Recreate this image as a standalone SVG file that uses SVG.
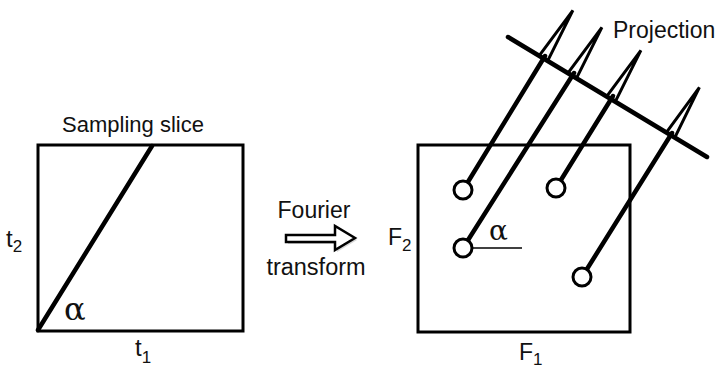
<svg xmlns="http://www.w3.org/2000/svg" width="717" height="370" viewBox="0 0 717 370">
<style>
.t{font-family:"Liberation Sans",Arial,sans-serif;fill:#111}
.g{font-family:"DejaVu Serif","Liberation Serif",serif;fill:#111}
.box{fill:none;stroke:#000;stroke-width:3}
.ln{stroke:#000;stroke-width:4.5;stroke-linecap:round;fill:none}
.sp{stroke:#000;stroke-width:3;fill:none;stroke-linejoin:miter}
.dot{fill:#fff;stroke:#000;stroke-width:3}
</style>
<rect width="717" height="370" fill="#fff"/>
<g id="time-domain">
<rect class="box" x="38" y="145" width="205" height="186"/>
<line class="ln" x1="38" y1="330" x2="152" y2="146"/>
<text class="t" x="133" y="132" font-size="22" text-anchor="middle">Sampling slice</text>
<text class="t" x="6" y="247" font-size="24">t<tspan font-size="17" dy="5">2</tspan></text>
<text class="t" x="135" y="356" font-size="24">t<tspan font-size="17" dy="7">1</tspan></text>
<text class="g" x="64" y="320" font-size="32">α</text>
</g>
<g id="fourier-arrow">
<polygon points="288,237 288,244 337,244 337,252 357,240 337,228 337,237" fill="#999" opacity="0.4"/>
<polygon points="286,235 286,242 335,242 335,250 355,238 335,226 335,235" fill="#fff" stroke="#000" stroke-width="2.5" stroke-linejoin="miter"/>
<text class="t" x="314" y="218" font-size="23" text-anchor="middle">Fourier</text>
<text class="t" x="316" y="275" font-size="23.5" text-anchor="middle">transform</text>
</g>
<g id="frequency-domain">
<rect class="box" x="418" y="145" width="212" height="187"/>
<text class="t" x="388" y="245" font-size="23">F<tspan font-size="17" dy="6">2</tspan></text>
<text class="t" x="519" y="360" font-size="23">F<tspan font-size="17" dy="5">1</tspan></text>
<line x1="472" y1="248" x2="522" y2="248" stroke="#000" stroke-width="1.5"/>
<text class="g" x="489" y="240" font-size="28">α</text>
</g>
<g id="connectors">
<line class="ln" x1="463" y1="190" x2="545" y2="56"/>
<line class="ln" x1="463" y1="248" x2="574" y2="73"/>
<line class="ln" x1="556" y1="188" x2="613" y2="96"/>
<line class="ln" x1="582" y1="277" x2="672" y2="133"/>
<path class="sp" d="M538.7,56.4 L572.9,10.4 L547.3,61.6"/>
<path class="sp" d="M567.7,73.4 L601.9,27.4 L576.3,78.6"/>
<path class="sp" d="M606.7,96.4 L640.9,50.4 L615.3,101.6"/>
<path class="sp" d="M665.7,133.4 L699.4,87.4 L674.3,138.6"/>
</g>
<g id="projection">
<line class="ln" x1="508" y1="37" x2="707" y2="157" stroke-width="5"/>
<text class="t" x="613" y="38" font-size="23">Projection</text>
</g>
<g id="peaks">
<circle class="dot" cx="463" cy="190" r="9"/>
<circle class="dot" cx="463" cy="248" r="9"/>
<circle class="dot" cx="556" cy="188" r="9"/>
<circle class="dot" cx="582" cy="277" r="9"/>
</g>
</svg>
